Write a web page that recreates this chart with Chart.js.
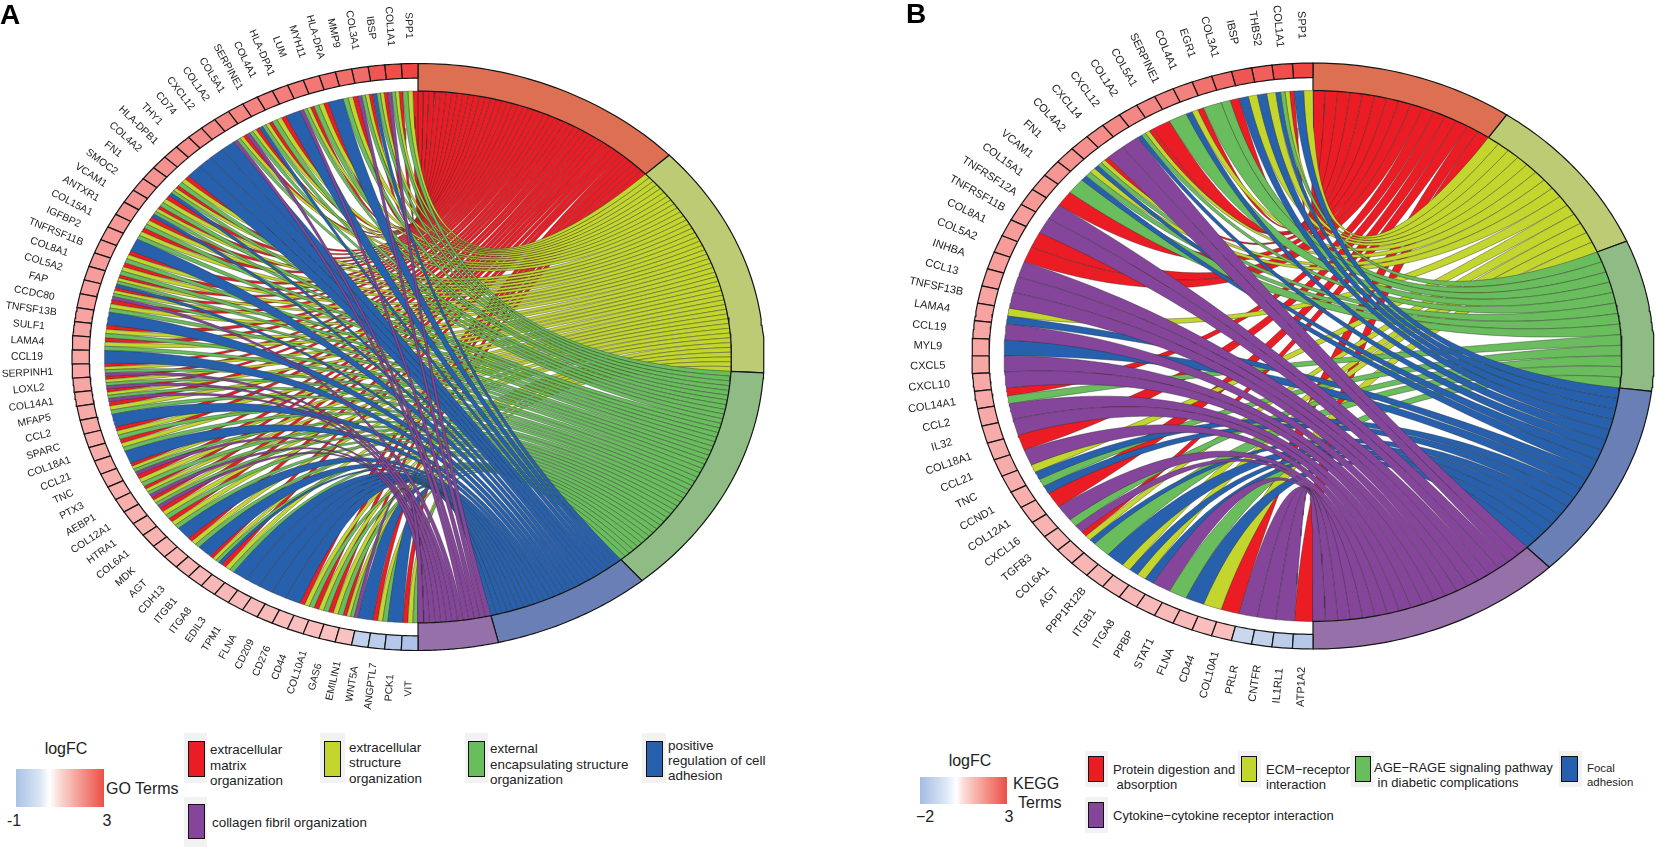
<!DOCTYPE html>
<html>
<head>
<meta charset="utf-8">
<title>GO and KEGG chord plots</title>
<script src="https://cdn.jsdelivr.net/npm/chart.js@4/dist/chart.umd.min.js"></script>
<style>
  html, body { margin: 0; padding: 0; background: #fff; }
  #page { position: relative; width: 1657px; height: 851px; overflow: hidden; font-family: "Liberation Sans", Arial, sans-serif; color: #222; }
  canvas { position: absolute; top: 0; }
  .t { position: absolute; white-space: pre; line-height: 1; transform: translateY(-50%); }
  .c { transform: translate(-50%, -50%); }
  .box { position: absolute; background: #f2f2f2; }
  .sw { position: absolute; border: 1px solid #111; box-sizing: border-box; }
  .bar { position: absolute; }
</style>
</head>
<body>
<div id="page">
  <canvas id="chartA"></canvas>
  <canvas id="chartB"></canvas>
</div>
<script>
// Panel A, GO terms
var genesA = ['SPP1','COL1A1','IBSP','COL3A1','MMP9','HLA-DRA','MYH11','LUM','HLA-DPA1','COL4A1','SERPINE1','COL5A1','COL1A2',
  'CXCL12','CD74','THY1','HLA-DPB1','COL4A2','FN1','SMOC2','VCAM1','ANTXR1','COL15A1','IGFBP2','TNFRSF11B','COL8A1','COL5A2',
  'FAP','CCDC80','TNFSF13B','SULF1','LAMA4','CCL19','SERPINH1','LOXL2','COL14A1','MFAP5','CCL2','SPARC','COL18A1','CCL21','TNC',
  'PTX3','AEBP1','COL12A1','HTRA1','COL6A1','MDK','AGT','CDH13','ITGB1','ITGA8','EDIL3','TPM1','FLNA','CD209','CD276','CD44',
  'COL10A1','GAS6','EMILIN1','WNT5A','ANGPTL7','PCK1','VIT'];
var logfcA = [3.0,2.85,2.75,2.4,2.35,2.3,2.2,2.15,2.1,2.05,2.0,1.95,1.95,
  1.9,1.9,1.85,1.8,1.8,1.75,1.75,1.7,1.7,1.65,1.65,1.6,1.6,1.6,
  1.55,1.55,1.5,1.5,1.5,1.45,1.45,1.45,1.4,1.4,1.4,1.35,1.35,1.35,1.3,
  1.3,1.3,1.25,1.25,1.25,1.2,1.2,1.2,1.15,1.15,1.15,1.1,1.1,1.1,1.05,1.05,
  1.05,1.0,1.0,-0.45,-0.5,-0.55,-0.6];
// which terms each gene belongs to (r, y, g, b, p = order of the legend)
var linksA = ['ryg','rygp','rygb','rygp','ryg','b','ryg','rygp','b','ryg','rygb','rygp','rygp',
  'b','b','b','b','ryg','rygb','ryg','rygb','ryg','ryg','b','ryg','ryg','rygb',
  'rygp','ryg','b','ryg','ryg','b','rygp','rygp','rygp','ryg','b','ryg','ryg','b','rygp',
  'ryg','rygp','rygp','ryg','ryg','b','ryg','b','rygb','ryg','b','b','b','b','b','ryg',
  'ryg','ryg','rygp','b','ryg','b','ryg'];

// Panel B, KEGG terms
var genesB = ['SPP1','COL1A1','THBS2','IBSP','COL3A1','EGR1','COL4A1','SERPINE1','COL5A1','COL1A2','CXCL12','CXCL14','COL4A2',
  'FN1','VCAM1','COL15A1','TNFRSF12A','TNFRSF11B','COL8A1','COL5A2','INHBA','CCL13','TNFSF13B','LAMA4','CCL19','MYL9','CXCL5',
  'CXCL10','COL14A1','CCL2','IL32','COL18A1','CCL21','TNC','CCND1','COL12A1','CXCL16','TGFB3','COL6A1','AGT','PPP1R12B','ITGB1',
  'ITGA8','PPBP','STAT1','FLNA','CD44','COL10A1','PRLR','CNTFR','IL1RL1','ATP1A2'];
var logfcB = [3.0,2.85,2.6,2.75,2.4,2.3,2.05,2.0,1.95,1.95,1.9,1.85,1.8,
  1.75,1.7,1.65,1.65,1.6,1.6,1.6,1.55,1.55,1.5,1.5,1.45,1.45,1.45,
  1.4,1.4,1.4,1.35,1.35,1.35,1.3,1.3,1.25,1.25,1.2,1.2,1.2,1.15,1.15,
  1.15,1.1,1.1,1.1,1.05,1.05,-0.8,-0.9,-1.0,-1.1];
var linksB = ['yb','rygb','yb','yb','rg','g','ryb','g','r','rygb','p','p','rygb',
  'ygb','g','r','p','p','r','r','p','p','p','yb','p','b','p',
  'p','rg','p','p','r','p','yb','gb','r','p','gp','ryb','g','b','yb',
  'yb','p','g','b','y','r','p','p','p','r'];

var termKeys = ['r','y','g','b','p'];
var ribbonColors = ['#ec1c24','#c2d62e','#69bd5c','#2760ad','#85459b'];
var ringColors = ['#dd7052','#bccb74','#8fbc85','#6a7fb5','#9670a8'];

var R_RIBBON = 0.906, R_CELL = 0.95, R_LABEL = 1.13;

function polar(r, deg) {
  var a = deg * Math.PI / 180;
  return { x: r * Math.sin(a), y: r * Math.cos(a) };
}
function arc(r, d1, d2, n) {
  var pts = [];
  for (var i = 0; i <= n; i++) pts.push(polar(r, d1 + (d2 - d1) * i / n));
  return pts;
}
function bez(p0, p2) {
  // quadratic curve with the circle centre as control point
  var pts = [];
  for (var i = 1; i < 40; i++) {
    var t = i / 40;
    pts.push({ x: (1 - t) * (1 - t) * p0.x + t * t * p2.x, y: (1 - t) * (1 - t) * p0.y + t * t * p2.y });
  }
  return pts;
}
function cellColor(v, low) {
  var c = v >= 0 ? [238, 70, 66] : [120, 155, 215];
  var t = v >= 0 ? v / 3 : -v / low;
  return 'rgb(' + c.map(function (k) { return Math.round(255 + (k - 255) * t); }).join(',') + ')';
}
function shape(points, fill, width, line) {
  return { data: points.concat([points[0]]), showLine: true, fill: 'shape', backgroundColor: fill,
    borderColor: line, borderWidth: width, pointRadius: 0, tension: 0 };
}

function buildDatasets(genes, logfc, links, low) {
  var total = 0, gw = 180 / genes.length, sets = [];
  links.forEach(function (l) { total += l.length; });
  var w = 180 / total, pos = 0;
  // ribbons, red first so that purple ends on top
  termKeys.forEach(function (key, k) {
    var start = pos;
    links.forEach(function (l, i) {
      var m = l.indexOf(key);
      if (m < 0) return;
      var a1 = i * gw + m * gw / l.length, a2 = a1 + gw / l.length;
      var b1 = pos, b2 = pos + w;
      var pts = arc(R_RIBBON, b1, b2, 3)
        .concat(bez(polar(R_RIBBON, b2), polar(R_RIBBON, -a2)))
        .concat(arc(R_RIBBON, -a2, -a1, 6))
        .concat(bez(polar(R_RIBBON, -a1), polar(R_RIBBON, b1)));
      sets.push(shape(pts, ribbonColors[k], 0.4, '#2a2a2a'));
      pos += w;
    });
    var ring = arc(R_RIBBON, start, pos, 40).concat(arc(1, pos, start, 40));
    sets.push(shape(ring, ringColors[k], 1.2, '#151515'));
  });
  // gene cells
  genes.forEach(function (g, i) {
    var cell = arc(R_CELL, -i * gw, -(i + 1) * gw, 4).concat(arc(1, -(i + 1) * gw, -i * gw, 4));
    sets.push(shape(cell, cellColor(logfc[i], low), 1.2, '#151515'));
  });
  // first dataset is painted last by Chart.js, so order runs backwards
  sets.forEach(function (s, i) { s.order = -i; });
  return sets;
}

var geneLabels = {
  id: 'geneLabels',
  afterDatasetsDraw: function (chart, args, opts) {
    var ctx = chart.ctx, sx = chart.scales.x, sy = chart.scales.y, gw = 180 / opts.genes.length;
    ctx.save();
    ctx.font = opts.size + 'px "Liberation Sans", Arial, sans-serif';
    ctx.fillStyle = '#222';
    ctx.textAlign = 'center';
    ctx.textBaseline = 'middle';
    opts.genes.forEach(function (g, i) {
      var d = (i + 0.5) * gw, p = polar(R_LABEL, -d);
      ctx.save();
      ctx.translate(sx.getPixelForValue(p.x), sy.getPixelForValue(p.y));
      ctx.rotate((90 - d) * Math.PI / 180);
      ctx.fillText(g, 0, 0);
      ctx.restore();
    });
    ctx.restore();
  }
};

function chord(id, left, width, cx, cy, rx, ry, genes, logfc, links, low, size) {
  var height = 728, el = document.getElementById(id);
  el.style.left = left + 'px';
  el.width = width; el.height = height;
  el.style.width = width + 'px'; el.style.height = height + 'px';
  return new Chart(el, {
    type: 'scatter',
    data: { datasets: buildDatasets(genes, logfc, links, low) },
    options: {
      responsive: false,
      animation: false,
      events: [],
      layout: { padding: 0 },
      scales: {
        x: { type: 'linear', display: false, min: -(cx - left) / rx, max: (left + width - cx) / rx },
        y: { type: 'linear', display: false, min: -(height - cy) / ry, max: cy / ry }
      },
      plugins: {
        legend: { display: false }, tooltip: { enabled: false }, title: { display: false },
        geneLabels: { genes: genes, size: size }
      }
    },
    plugins: [geneLabels]
  });
}

chord('chartA', 0, 836, 418, 357, 346, 293.5, genesA, logfcA, linksA, 1, 10.3);
chord('chartB', 836, 821, 1313, 356, 341, 293, genesB, logfcB, linksB, 2, 11);

// legends and panel letters
var page = document.getElementById('page');
function add(cls, css, text) {
  var d = document.createElement('div');
  d.className = cls;
  d.style.cssText = css;
  if (text !== undefined) d.textContent = text;
  page.appendChild(d);
}
function text(s, x, y, size, bold) {
  add('t', 'left:' + x + 'px;top:' + y + 'px;font-size:' + size + 'px;' + (bold ? 'font-weight:bold;color:#000;' : ''), s);
}
function center(s, x, y, size) {
  add('t c', 'left:' + x + 'px;top:' + y + 'px;font-size:' + size + 'px;', s);
}
function swatch(bx, by, bw, bh, x, y, w, h, color) {
  add('box', 'left:' + bx + 'px;top:' + by + 'px;width:' + bw + 'px;height:' + bh + 'px;');
  add('sw', 'left:' + x + 'px;top:' + y + 'px;width:' + w + 'px;height:' + h + 'px;background:' + color + ';');
}

text('A', 0, 15, 28, true);
text('B', 906, 14, 28, true);

center('logFC', 66, 749, 16);
add('bar', 'left:16px;top:769px;width:88px;height:38px;background:linear-gradient(90deg,#a9c2e6,#dbe7f5 28%,#fff 38%,#f9d3cd 52%,#ee5a50 96%,#ee4f47);');
center('-1', 14, 821, 16);
center('3', 107, 821, 16);
swatch(184, 733, 23, 50, 188, 741, 17, 36, ribbonColors[0]);
swatch(320, 733, 25, 50, 324, 741, 17, 36, ribbonColors[1]);
swatch(465, 733, 23, 50, 468, 741, 17, 36, ribbonColors[2]);
swatch(642, 733, 24, 50, 646, 741, 17, 36, ribbonColors[3]);
swatch(184, 797, 23, 50, 188, 804, 17, 35, ribbonColors[4]);
text('GO Terms', 106, 789, 16);
text('extracellular', 210, 750, 13.4); text('matrix', 210, 766, 13.4); text('organization', 210, 781, 13.4);
text('extracellular', 349, 748, 13.4); text('structure', 349, 763, 13.4); text('organization', 349, 779, 13.4);
text('external', 490, 749, 13.4); text('encapsulating structure', 490, 765, 13.4); text('organization', 490, 780, 13.4);
text('positive', 668, 746, 13.4); text('regulation of cell', 668, 761, 13.4); text('adhesion', 668, 776, 13.4);
text('collagen fibril organization', 212, 823, 13.4);

center('logFC', 970, 761, 16);
add('bar', 'left:920px;top:777px;width:87px;height:27px;background:linear-gradient(90deg,#a5bde2,#dce8f6 30%,#fff 42%,#fbdcd7 50%,#ee5a50 96%,#ee4f47);');
center('\u22122', 925, 817, 16);
center('3', 1009, 817, 16);
swatch(1085, 751, 23, 36, 1088, 756, 16, 26, ribbonColors[0]);
swatch(1238, 751, 23, 36, 1241, 756, 16, 26, ribbonColors[1]);
swatch(1351, 751, 23, 36, 1355, 756, 16, 26, ribbonColors[2]);
swatch(1559, 751, 23, 36, 1561, 756, 17, 26, ribbonColors[3]);
swatch(1085, 797, 23, 36, 1088, 802, 16, 26, ribbonColors[4]);
text('KEGG', 1013, 784, 16);
text('Terms', 1018, 803, 16);
text('Protein digestion and', 1113, 769, 13); text(' absorption', 1113, 784, 13);
text('ECM\u2212receptor', 1266, 769, 13); text('interaction', 1266, 784, 13);
text('AGE\u2212RAGE signaling pathway', 1374, 767, 13); text(' in diabetic complications', 1374, 782, 13);
text('Focal', 1587, 769, 11.4); text('adhesion', 1587, 783, 11.4);
text('Cytokine\u2212cytokine receptor interaction', 1113, 815, 13);
</script>
</body>
</html>
